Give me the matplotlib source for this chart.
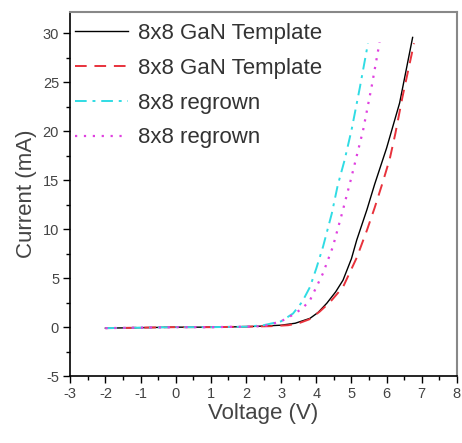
import matplotlib.pyplot as plt
from matplotlib.ticker import MultipleLocator

plt.rcParams["font.family"] = ["Liberation Sans", "DejaVu Sans"]
plt.rcParams["axes.unicode_minus"] = False

# data
v_tmpl1 = [-2, -1, 0, 1, 2, 2.4, 3.0, 3.4, 3.82, 4.05, 4.3, 4.55, 4.76, 5.0, 5.15, 5.44, 5.66, 6.0, 6.37, 6.74]
i_tmpl1 = [-0.1, -0.05, 0, 0, 0.05, 0.1, 0.2, 0.4, 0.9, 1.5, 2.45, 3.6, 4.8, 7.0, 8.9, 12.0, 14.6, 18.3, 22.9, 29.6]

v_tmpl2 = [-2, -1, 0, 1, 2, 2.7, 3.2, 3.5, 3.8, 4.1, 4.4, 4.76, 5.15, 5.44, 5.66, 5.89, 6.09, 6.25, 6.45, 6.78]
i_tmpl2 = [-0.1, -0.05, 0, 0, 0.05, 0.1, 0.2, 0.4, 0.8, 1.6, 2.6, 4.1, 7.1, 9.9, 12.2, 14.8, 17.2, 19.8, 23.5, 29.0]

v_regr1 = [-2, -1, 0, 1, 2, 2.5, 3.0, 3.34, 3.6, 3.82, 4.0, 4.19, 4.44, 4.61, 4.8, 5.0, 5.24, 5.47]
i_regr1 = [-0.1, -0.05, 0, 0, 0.05, 0.2, 0.6, 1.4, 2.6, 4.1, 6.0, 8.2, 11.6, 14.5, 17.0, 20.1, 24.5, 29.0]

v_regr2 = [-2, -1, 0, 1, 2, 2.5, 3.0, 3.3, 3.6, 3.82, 4.19, 4.47, 4.73, 4.97, 5.33, 5.57, 5.8]
i_regr2 = [-0.1, -0.05, 0, 0, 0.05, 0.1, 0.6, 1.2, 1.9, 2.75, 5.5, 8.2, 11.6, 14.9, 20.1, 24.5, 29.1]

labels = ["8x8 GaN Template", "8x8 GaN Template", "8x8 regrown", "8x8 regrown"]

fig = plt.figure(figsize=(4.62, 4.43), dpi=100)
ax = fig.add_axes([0.152, 0.151, 0.837, 0.822])

ax.plot(v_tmpl1, i_tmpl1, color="black", lw=1.0, ls="-", label=labels[0])
ax.plot(v_tmpl2, i_tmpl2, color="#e8323c", lw=1.4, ls=(0, (6, 4)), label=labels[1])
ax.plot(v_regr1, i_regr1, color="#30dce4", lw=1.4, ls=(0, (6, 3, 1.5, 3)), label=labels[2])
ax.plot(v_regr2, i_regr2, color="#e040e0", lw=1.6, ls=(0, (1, 3)), label=labels[3])

ax.set_xlim(-3, 8)
ax.set_ylim(-5, 32.2)
ax.xaxis.set_major_locator(MultipleLocator(1))
ax.xaxis.set_minor_locator(MultipleLocator(0.5))
ax.yaxis.set_major_locator(MultipleLocator(5))
ax.yaxis.set_minor_locator(MultipleLocator(2.5))
ax.tick_params(which="major", direction="out", length=5, width=1, labelsize=10.5,
               labelcolor="#444444", top=False, right=False, pad=3)
ax.tick_params(which="minor", direction="out", length=3, width=1, top=False, right=False)

for side in ["top", "right"]:
    ax.spines[side].set_color("#888888")
    ax.spines[side].set_linewidth(1.5)
for side in ["left", "bottom"]:
    ax.spines[side].set_linewidth(1.2)

ax.set_xlabel("Voltage (V)", fontsize=16, color="#444444", labelpad=1)
ax.set_ylabel("Current (mA)", fontsize=16, color="#444444", labelpad=4)

leg = ax.legend(loc="upper left", bbox_to_anchor=(-0.002, 0.985), frameon=False,
                fontsize=16, handlelength=2.4, handletextpad=0.45,
                labelspacing=0.62, borderaxespad=0, borderpad=0.25)
for t in leg.get_texts():
    t.set_color("#333333")

fig.savefig("out.png", dpi=100, facecolor="white")
